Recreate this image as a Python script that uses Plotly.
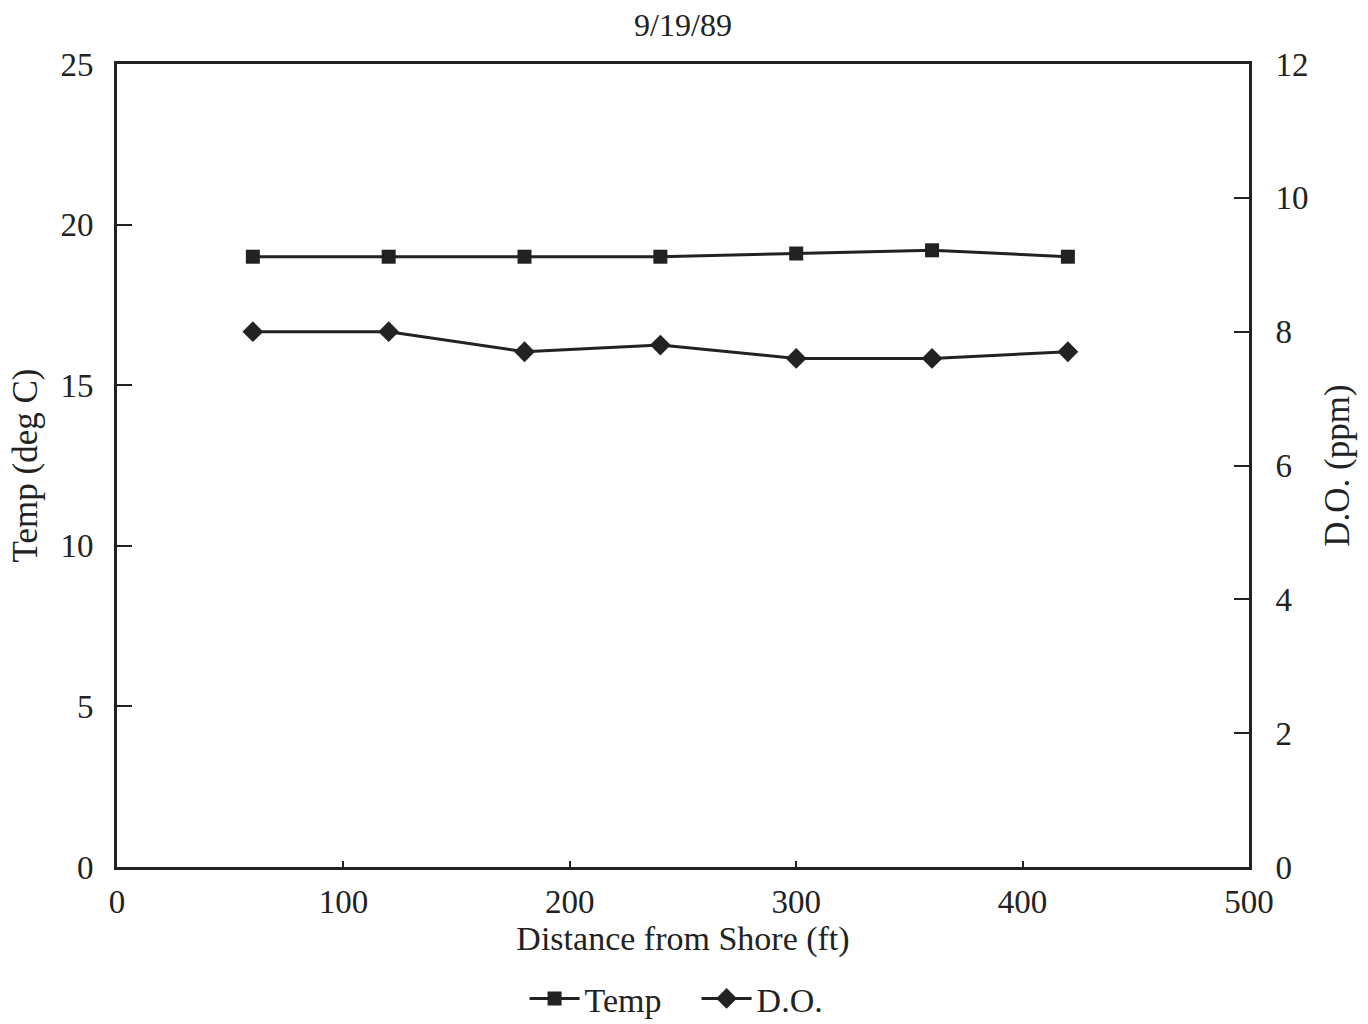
import plotly.graph_objects as go

distance = [60, 120, 180, 240, 300, 360, 420]
temp = [19.0, 19.0, 19.0, 19.0, 19.1, 19.2, 19.0]
do_ppm = [8.0, 8.0, 7.7, 7.8, 7.6, 7.6, 7.7]

FONT = "Liberation Serif"
C = "#222222"

W, H = 1368, 1024

fig = go.Figure()
fig.add_trace(go.Scatter(x=distance, y=temp, name="Temp", mode="lines+markers",
                         line=dict(color=C, width=3),
                         marker=dict(symbol="square", size=14, color=C)))
fig.add_trace(go.Scatter(x=distance, y=do_ppm, name="D.O.", mode="lines+markers",
                         yaxis="y2",
                         line=dict(color=C, width=3),
                         marker=dict(symbol="diamond", size=16, color=C)))

fig.update_layout(
    width=W, height=H,
    paper_bgcolor="white", plot_bgcolor="white",
    margin=dict(l=117, r=119, t=64, b=157, autoexpand=False),
    font=dict(family=FONT, size=33, color=C),
    title=dict(text="9/19/89", x=0.5, xanchor="center", xref="paper",
               y=1 - 25 / H, yref="container", yanchor="middle",
               font=dict(family=FONT, size=32, color=C)),
    xaxis=dict(range=[0, 500], tickvals=[0, 100, 200, 300, 400, 500],
               showline=True, linecolor=C, linewidth=3, mirror=True,
               ticks="inside", ticklen=6, tickwidth=2, tickcolor=C,
               ticklabelstandoff=3, automargin=False,
               tickfont=dict(family=FONT, size=33),
               showgrid=False, zeroline=False,
               title=dict(text="Distance from Shore (ft)", standoff=8,
                          font=dict(family=FONT, size=34))),
    yaxis=dict(range=[0, 25], tickvals=[0, 5, 10, 15, 20, 25],
               showline=True, linecolor=C, linewidth=3,
               ticks="inside", ticklen=15, tickwidth=2, tickcolor=C,
               ticklabelstandoff=14, automargin=False,
               tickfont=dict(family=FONT, size=33),
               showgrid=False, zeroline=False,
               title=dict(text="Temp (deg C)", standoff=13,
                          font=dict(family=FONT, size=35))),
    yaxis2=dict(range=[0, 12], tickvals=[0, 2, 4, 6, 8, 10, 12],
                overlaying="y", side="right",
                showline=True, linecolor=C, linewidth=3,
                ticks="inside", ticklen=15, tickwidth=2, tickcolor=C,
                ticklabelstandoff=17, automargin=False,
                tickfont=dict(family=FONT, size=33),
                showgrid=False, zeroline=False,
                title=dict(text="D.O. (ppm)", standoff=17,
                           font=dict(family=FONT, size=35))),
    legend=dict(orientation="h", x=0.512, xanchor="center", y=-0.128, yanchor="top",
                font=dict(family=FONT, size=34), itemwidth=50,
                entrywidth=107, entrywidthmode="pixels"),
    showlegend=True,
)

fig.write_html("out.html", config={"displayModeBar": False},
               post_script="document.body.style.margin='0';document.body.style.overflow='hidden';")
